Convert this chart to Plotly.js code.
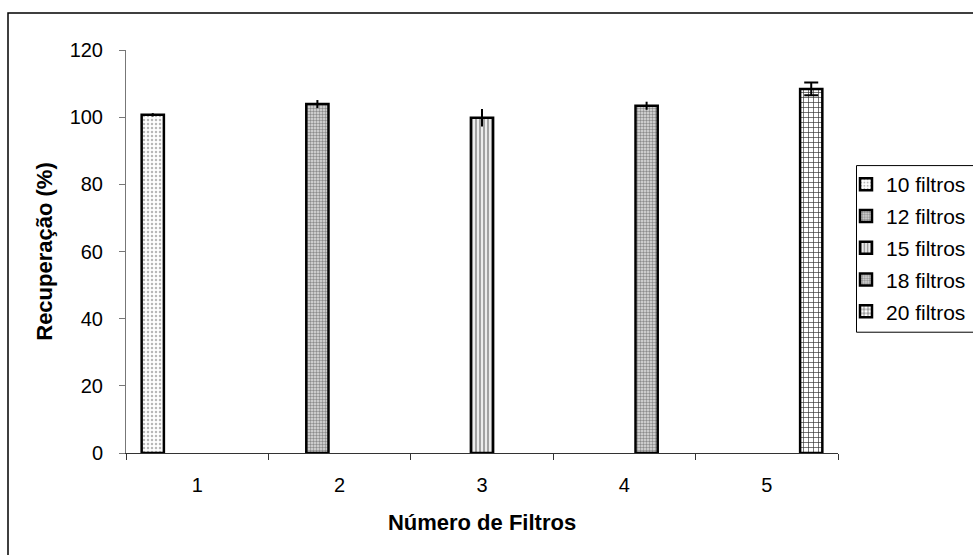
<!DOCTYPE html>
<html>
<head>
<meta charset="utf-8">
<script src="https://cdn.plot.ly/plotly-3.0.1.min.js"></script>
<style>html,body{margin:0;padding:0;background:#fff;}#chart{width:973px;height:555px;}</style>
</head>
<body>
<div id="chart"></div>
<script>
// ---- data ----
const categories = ['1', '2', '3', '4', '5'];
const seriesNames = ['10 filtros', '12 filtros', '15 filtros', '18 filtros', '20 filtros'];
const recovery = [100.7, 103.9, 99.8, 103.4, 108.4];
const errors = [0.5, 1.2, 2.6, 1.2, 1.9];
const yTicks = [0, 20, 40, 60, 80, 100, 120];

// ---- styles ----
const patterns = [
  {shape: '.', fgcolor: '#b8b8b8', bgcolor: '#ffffff', size: 4, solidity: 0.3},
  {shape: '.', fgcolor: '#8c8c8c', bgcolor: '#e2e2e2', size: 3, solidity: 0.5},
  {shape: '|', fgcolor: '#9a9a9a', bgcolor: '#ececec', size: 4, solidity: 0.45},
  {shape: '.', fgcolor: '#8c8c8c', bgcolor: '#e2e2e2', size: 3, solidity: 0.5},
  {shape: '+', fgcolor: '#333333', bgcolor: '#ffffff', size: 5, solidity: 0.25}
];
const capWidths = [0, 0, 0, 0, 7];
const GROUP_WIDTH = 0.78;          // fraction of a category slot used by the group
const BAR_W = GROUP_WIDTH / seriesNames.length;

const FONT = 'Liberation Sans, Arial, sans-serif';

const traces = seriesNames.map((name, i) => ({
  type: 'bar',
  name: name,
  x: [categories[i]],
  y: [recovery[i]],
  width: BAR_W,
  offset: -GROUP_WIDTH / 2 + i * BAR_W,
  legendgroup: 'g' + i,
  marker: {
    color: patterns[i].bgcolor,
    line: {color: '#000', width: 2.5},
    pattern: patterns[i]
  },
  error_y: {type: 'data', array: [errors[i]], visible: true, color: '#000', thickness: 2, width: capWidths[i]}
}));

// plot area in px: x 126..838, y 50..452.7
const L = 126, R = 838, T = 50, B = 452.7, W = 973, H = 555;
const pw = R - L, ph = B - T;
const px = v => (v - L) / pw;
const py = v => (B - v) / ph;

const layout = {
  width: W, height: H,
  margin: {l: L, r: W - R, t: T, b: H - B, autoexpand: false},
  paper_bgcolor: '#fff', plot_bgcolor: '#fff',
  font: {family: FONT, color: '#000', size: 20},
  barmode: 'overlay',
  showlegend: true,
  legend: {
    xref: 'container', yref: 'container',
    x: 846 / W, y: 1 - 164 / H, xanchor: 'left', yanchor: 'top',
    font: {family: FONT, size: 21, color: '#000'},
    bgcolor: 'rgba(0,0,0,0)', borderwidth: 0,
    tracegroupgap: 1.5,
    traceorder: 'grouped'
  },
  xaxis: {
    type: 'category',
    categoryorder: 'array', categoryarray: categories,
    range: [-0.5, 4.5],
    tickson: 'boundaries',
    ticks: 'outside', ticklen: 6, tickcolor: '#333', tickwidth: 1,
    showline: true, linecolor: '#333', linewidth: 1,
    showgrid: false, zeroline: false,
    tickfont: {family: FONT, size: 20, color: '#000'},
    ticklabelstandoff: 14,
    title: {text: '<b>Número de Filtros</b>', font: {family: FONT, size: 22, color: '#000'}, standoff: 19}
  },
  yaxis: {
    range: [0, 120],
    tickmode: 'array', tickvals: yTicks, ticktext: yTicks.map(String),
    ticks: 'outside', ticklen: 6, tickcolor: '#777', tickwidth: 1,
    showline: true, linecolor: '#777', linewidth: 1,
    showgrid: false, zeroline: false,
    tickfont: {family: FONT, size: 20, color: '#000'},
    ticklabelstandoff: 12,
    title: {text: '<b>Recuperação (%)</b>', font: {family: FONT, size: 22, color: '#000'}, standoff: 10}
  },
  shapes: [
    {type: 'rect', xref: 'paper', yref: 'paper', x0: px(8), x1: px(990), y0: py(570), y1: py(13),
     line: {color: '#000', width: 1.5}, fillcolor: 'rgba(0,0,0,0)', layer: 'below'},
    {type: 'rect', xref: 'paper', yref: 'paper', x0: px(856.5), x1: px(990), y0: py(332), y1: py(165.5),
     line: {color: '#000', width: 1}, fillcolor: 'rgba(0,0,0,0)', layer: 'above'}
  ]
};

Plotly.newPlot('chart', traces, layout, {displayModeBar: false, staticPlot: true});
</script>
</body>
</html>
